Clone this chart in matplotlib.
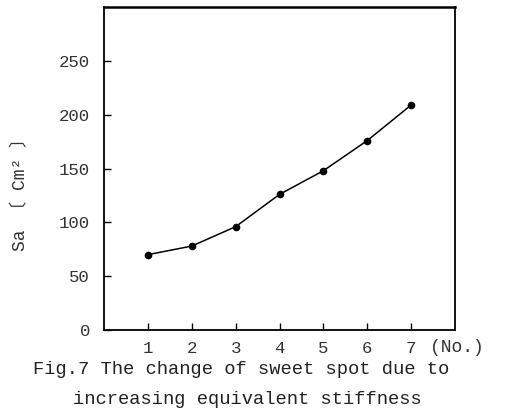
import matplotlib
matplotlib.use("Agg")
import matplotlib.pyplot as plt

x_no = [1, 2, 3, 4, 5, 6, 7]
sa_values = [70, 78, 96, 126, 148, 176, 209]
y_ticks = [0, 50, 100, 150, 200, 250]
x_ticks = [1, 2, 3, 4, 5, 6, 7]

fam = ['Liberation Mono', 'Noto Sans CJK JP', 'DejaVu Sans']
plt.rcParams['font.family'] = fam

fig = plt.figure(figsize=(5.05, 4.18), dpi=100)
ax = fig.add_axes([0.206, 0.2105, 0.695, 0.7725])
ax.plot(x_no, sa_values, color='black', lw=1.1, marker='o', ms=4.5)
ax.set_xlim(0, 8)
ax.set_ylim(0, 300)
ax.set_yticks(y_ticks)
ax.set_xticks(x_ticks)
ax.tick_params(direction='in', length=5, width=1, labelsize=12.5, colors='black', pad=10)
ax.tick_params(axis='x', pad=8)
for lab in ax.get_yticklabels() + ax.get_xticklabels():
    lab.set_color('#333333')
for s in ax.spines.values():
    s.set_linewidth(1.3)
ax.spines['top'].set_linewidth(1.8)

fig.text(430 / 505, 1 - 348 / 418, "(No.)", fontsize=13, color='#333333',
         ha='left', va='center')

fig.text(0.04, 0.545, "Sa 〔 Cm² 〕", rotation=90, fontsize=13, ha='center', va='center',
         color='#333333', family=fam)

fig.text(0.065, 0.115, "Fig.7 The change of sweet spot due to", fontsize=13.5,
         ha='left', va='center', color='#222222')
fig.text(0.145, 0.045, "increasing equivalent stiffness", fontsize=13.5,
         ha='left', va='center', color='#222222')

fig.savefig("out.png", dpi=100)
